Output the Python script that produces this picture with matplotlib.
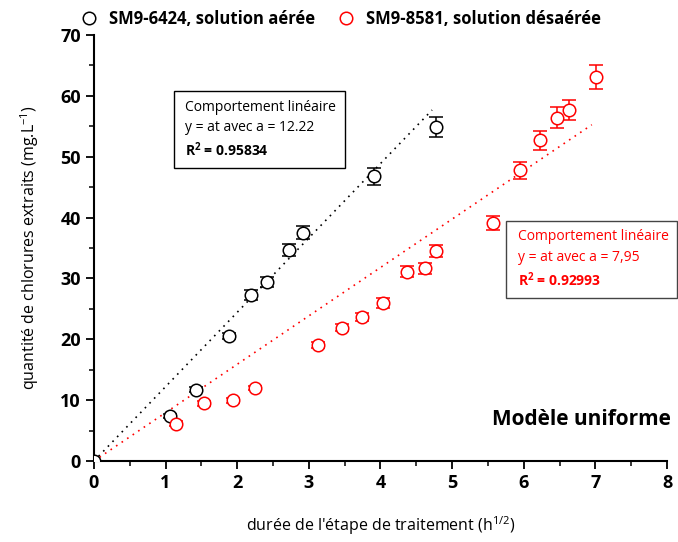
import numpy as np
import matplotlib
matplotlib.use("Agg")
import matplotlib.pyplot as plt
from matplotlib.lines import Line2D
from matplotlib.ticker import MultipleLocator

plt.rcParams['font.family'] = ['Open Sans', 'DejaVu Sans']
plt.rcParams['mathtext.fontset'] = 'custom'
plt.rcParams['mathtext.rm'] = 'Open Sans'
plt.rcParams['mathtext.bf'] = 'Open Sans:bold'

# aerated solution (SM9-6424)
t_aer = [0.0, 1.06, 1.42, 1.89, 2.19, 2.42, 2.72, 2.92, 3.91, 4.78]
c_aer = [0.0, 7.4, 11.7, 20.5, 27.3, 29.4, 34.7, 37.5, 46.8, 54.9]
e_aer = [0.0, 0.4, 0.4, 0.5, 0.8, 0.8, 1.0, 1.1, 1.4, 1.6]

# deaerated solution (SM9-8581)
t_dea = [1.15, 1.54, 1.94, 2.25, 3.13, 3.46, 3.74, 4.04, 4.37, 4.62, 4.78,
         5.57, 5.95, 6.23, 6.47, 6.63, 7.01]
c_dea = [6.1, 9.5, 10.0, 12.0, 19.1, 21.9, 23.7, 26.0, 31.1, 31.7, 34.5,
         39.1, 47.8, 52.7, 56.4, 57.7, 63.1]
e_dea = [0.4, 0.4, 0.4, 0.4, 0.5, 0.6, 0.7, 0.8, 0.9, 0.9, 1.0,
         1.2, 1.4, 1.6, 1.7, 1.7, 1.9]

# linear fits y = a*t
a_aer, r2_aer, tmax_aer = 12.22, 0.95834, 4.72
a_dea, r2_dea, tmax_dea = 7.95, 0.92993, 6.95

fig = plt.figure(figsize=(6.78, 5.42), dpi=100)
ax = fig.add_axes([0.1386, 0.1494, 0.8452, 0.786])

ax.errorbar(t_aer, c_aer, yerr=e_aer, fmt='o', mfc='white', mec='black',
            ecolor='black', ms=9, mew=1.1, elinewidth=1.1, capsize=5,
            capthick=1.1, zorder=3)
ax.errorbar(t_dea, c_dea, yerr=e_dea, fmt='o', mfc='white', mec='red',
            ecolor='red', ms=9, mew=1.1, elinewidth=1.1, capsize=5,
            capthick=1.1, zorder=3)

tt = np.array([0, tmax_aer])
ax.plot(tt, a_aer * tt, color='black', ls=(0, (1, 3)), lw=1.2, zorder=2)
tt = np.array([0, tmax_dea])
ax.plot(tt, a_dea * tt, color='red', ls=(0, (1, 3)), lw=1.2, zorder=2)

ax.set_xlim(0, 8)
ax.set_ylim(0, 70)
ax.xaxis.set_major_locator(MultipleLocator(1))
ax.xaxis.set_minor_locator(MultipleLocator(0.5))
ax.yaxis.set_major_locator(MultipleLocator(10))
ax.yaxis.set_minor_locator(MultipleLocator(5))
ax.spines['top'].set_visible(False)
ax.spines['right'].set_visible(False)
for s in ('left', 'bottom'):
    ax.spines[s].set_linewidth(1.5)
ax.tick_params(which='major', direction='out', length=6, width=1.3,
               labelsize=13)
ax.tick_params(which='minor', direction='out', length=3.5, width=1.1)
for lab in ax.get_xticklabels() + ax.get_yticklabels():
    lab.set_fontweight('bold')

ax.set_xlabel("durée de l'étape de traitement (h$^{1/2}$)", fontsize=11.5,
              labelpad=16)
ax.set_ylabel("quantité de chlorures extraits (mg.L$^{-1}$)", fontsize=11.5,
              labelpad=14)


def fit_box(x0, ys, lines, color, box_xy, box_wh, edge):
    for i, (y, s) in enumerate(zip(ys, lines)):
        ax.text(x0, y, s, transform=ax.transAxes, fontsize=10,
                va='center', color=color,
                fontweight='bold' if i == 2 else 'normal', clip_on=False)
    ax.add_patch(plt.Rectangle(box_xy, box_wh[0], box_wh[1],
                               transform=ax.transAxes, fill=False, ec=edge,
                               lw=1.0, clip_on=False))


fit_box(0.159, [0.831, 0.782, 0.730],
        ["Comportement linéaire", "y = at avec a = %.2f" % a_aer,
         r"R$^\mathbf{2}$ = %.5f" % r2_aer],
        'black', (0.1396, 0.688), (0.298, 0.181), 'black')
fit_box(0.740, [0.526, 0.477, 0.425],
        ["Comportement linéaire",
         "y = at avec a = %s" % ("%.2f" % a_dea).replace('.', ','),
         r"R$^\mathbf{2}$ = %.5f" % r2_dea],
        'red', (0.719, 0.383), (0.298, 0.180), '#444444')

ax.text(1.006, 0.085, "Modèle uniforme", transform=ax.transAxes, ha='right',
        fontsize=15, fontweight='bold')

handles = [Line2D([], [], ls='none', marker='o', mfc='white', mec=c, ms=9,
                  mew=1.1) for c in ('black', 'red')]
fig.legend(handles, ['SM9-6424, solution aérée', 'SM9-8581, solution désaérée'],
           loc='upper left', bbox_to_anchor=(0.095, 1.01), ncol=2,
           frameon=False, prop={'weight': 'bold', 'size': 12},
           handletextpad=0.6, columnspacing=1.2, handlelength=1.2)

fig.savefig("out.png", dpi=100)
